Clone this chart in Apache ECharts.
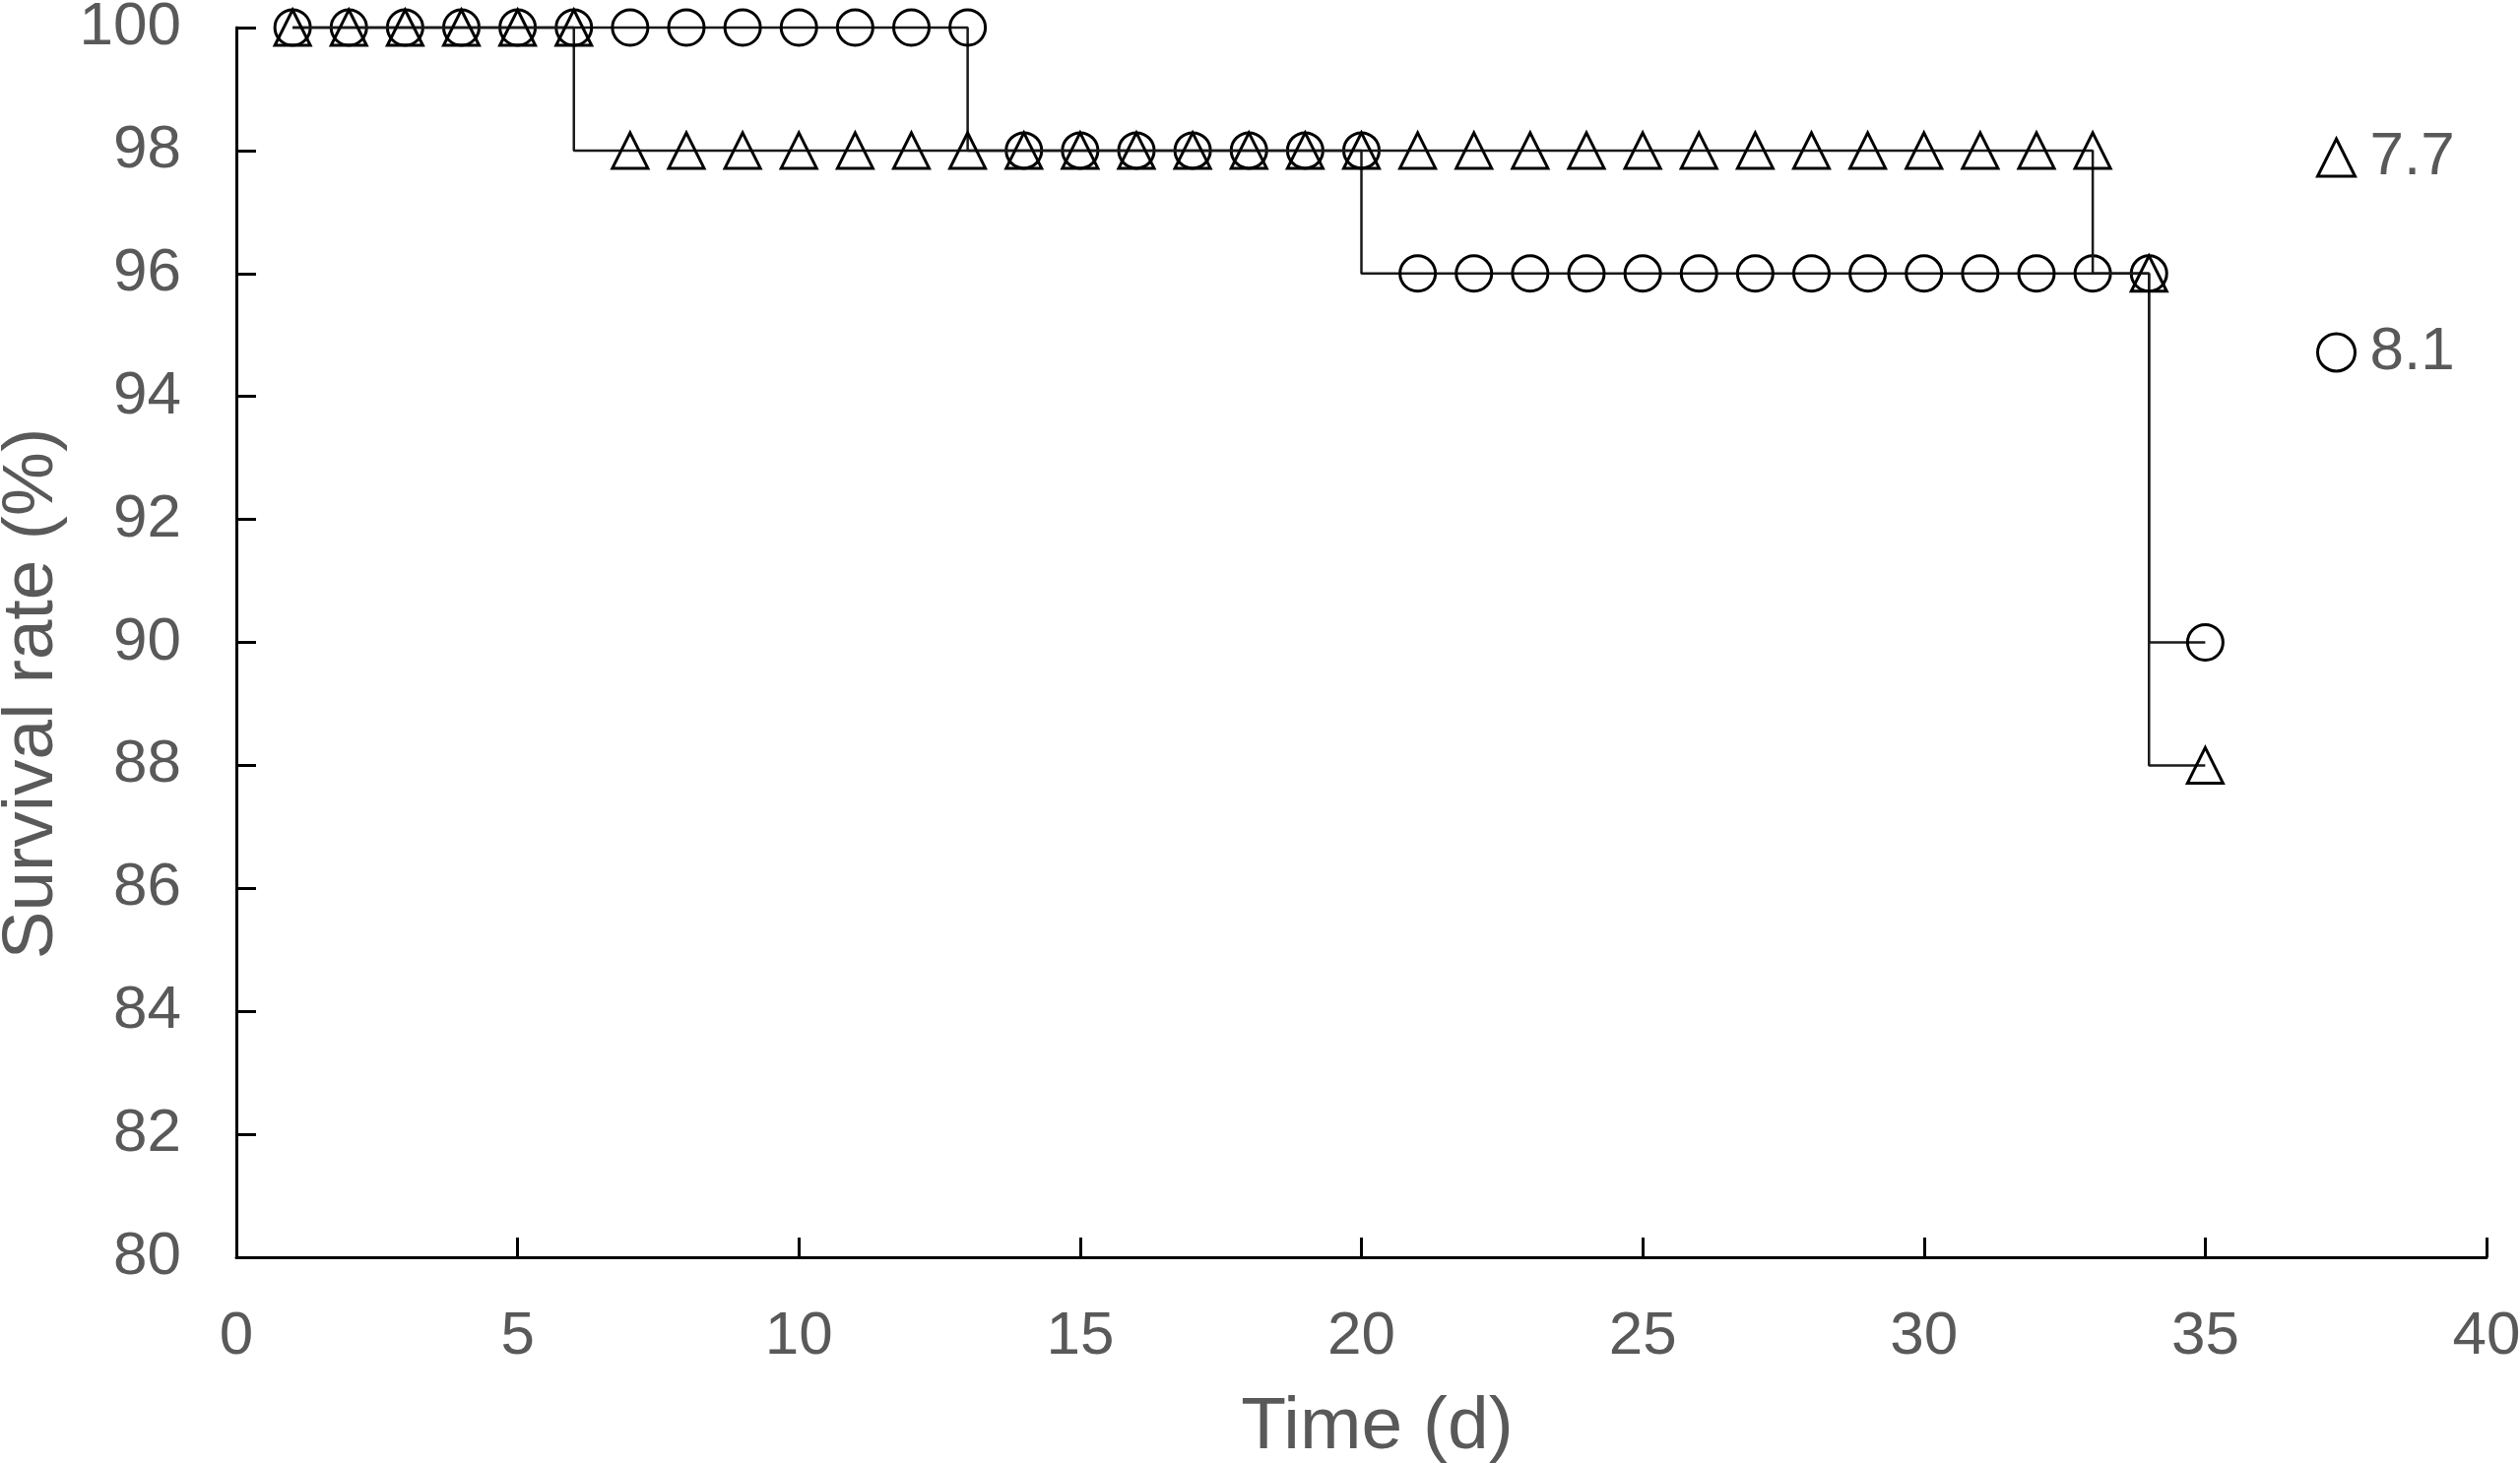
<!DOCTYPE html>
<html>
<head>
<meta charset="utf-8">
<script src="https://cdn.jsdelivr.net/npm/echarts@6/dist/echarts.min.js"></script>
<style>
  html, body { margin: 0; padding: 0; background: #fff; }
  #chart { width: 2559px; height: 1486px; }
</style>
</head>
<body>
<div id="chart"></div>
<script>
// time in days
var days = [1, 2, 3, 4, 5, 6, 7, 8, 9, 10, 11, 12, 13, 14, 15, 16, 17, 18,
            19, 20, 21, 22, 23, 24, 25, 26, 27, 28, 29, 30, 31, 32, 33, 34, 35];
// survival rate (%) for pH 7.7 (triangles)
var rate77 = [100, 100, 100, 100, 100, 100, 98, 98, 98, 98, 98, 98, 98, 98, 98, 98, 98, 98,
              98, 98, 98, 98, 98, 98, 98, 98, 98, 98, 98, 98, 98, 98, 98, 96, 88];
// survival rate (%) for pH 8.1 (circles)
var rate81 = [100, 100, 100, 100, 100, 100, 100, 100, 100, 100, 100, 100, 100, 98, 98, 98, 98, 98,
              98, 98, 96, 96, 96, 96, 96, 96, 96, 96, 96, 96, 96, 96, 96, 96, 90];
var seriesNames = ['7.7', '8.1'];

function pairs(xs, ys) {
  return xs.map(function (x, i) { return [x, ys[i]]; });
}

var labelColor = '#595959';
var font = 'Liberation Sans, Arial, sans-serif';
var markerStyle = { color: 'transparent', borderColor: '#000', borderWidth: 3 };

var chart = echarts.init(document.getElementById('chart'));
var option = {
  animation: false,
  backgroundColor: '#fff',
  grid: { left: 240, right: 34, top: 28, bottom: 209, outerBoundsMode: 'none' },
  legend: {
    orient: 'vertical',
    left: 2347,
    top: 124,
    itemWidth: 38,
    itemHeight: 38,
    itemGap: 136,
    textStyle: { fontSize: 62, color: labelColor, fontFamily: font, padding: [0, 0, 0, 10] },
    data: [
      { name: seriesNames[0], icon: 'triangle', itemStyle: markerStyle },
      { name: seriesNames[1], icon: 'circle', itemStyle: markerStyle }
    ]
  },
  xAxis: {
    type: 'value',
    min: 0,
    max: 40,
    interval: 5,
    name: 'Time (d)',
    nameLocation: 'middle',
    nameGap: 136,
    nameTextStyle: { fontSize: 75, color: labelColor, fontFamily: font, padding: [0, 0, 0, 32] },
    splitLine: { show: false },
    axisLine: { lineStyle: { color: '#000', width: 3 } },
    axisTick: { inside: true, length: 20, lineStyle: { color: '#000', width: 3 } },
    axisLabel: { margin: 50, fontSize: 62, color: labelColor, fontFamily: font }
  },
  yAxis: {
    type: 'value',
    min: 80,
    max: 100,
    interval: 2,
    name: 'Survival rate (%)',
    nameLocation: 'middle',
    nameGap: 167,
    nameTextStyle: { fontSize: 73, color: labelColor, fontFamily: font, padding: [0, 104, 0, 0] },
    splitLine: { show: false },
    axisLine: { onZero: false, lineStyle: { color: '#000', width: 3 } },
    axisTick: { inside: true, length: 20, lineStyle: { color: '#000', width: 3 } },
    axisLabel: { margin: 56, fontSize: 62, color: labelColor, fontFamily: font }
  },
  series: [
    {
      name: seriesNames[0],
      type: 'line',
      step: 'start',
      data: pairs(days, rate77),
      symbol: 'triangle',
      symbolSize: 36,
      showAllSymbol: true,
      clip: false,
      lineStyle: { color: '#1a1a1a', width: 2.5 },
      itemStyle: markerStyle,
      z: 3
    },
    {
      name: seriesNames[1],
      type: 'line',
      step: 'start',
      data: pairs(days, rate81),
      symbol: 'circle',
      symbolSize: 36,
      showAllSymbol: true,
      clip: false,
      lineStyle: { color: '#1a1a1a', width: 2.5 },
      itemStyle: markerStyle,
      z: 2
    }
  ]
};
chart.setOption(option);
</script>
</body>
</html>
